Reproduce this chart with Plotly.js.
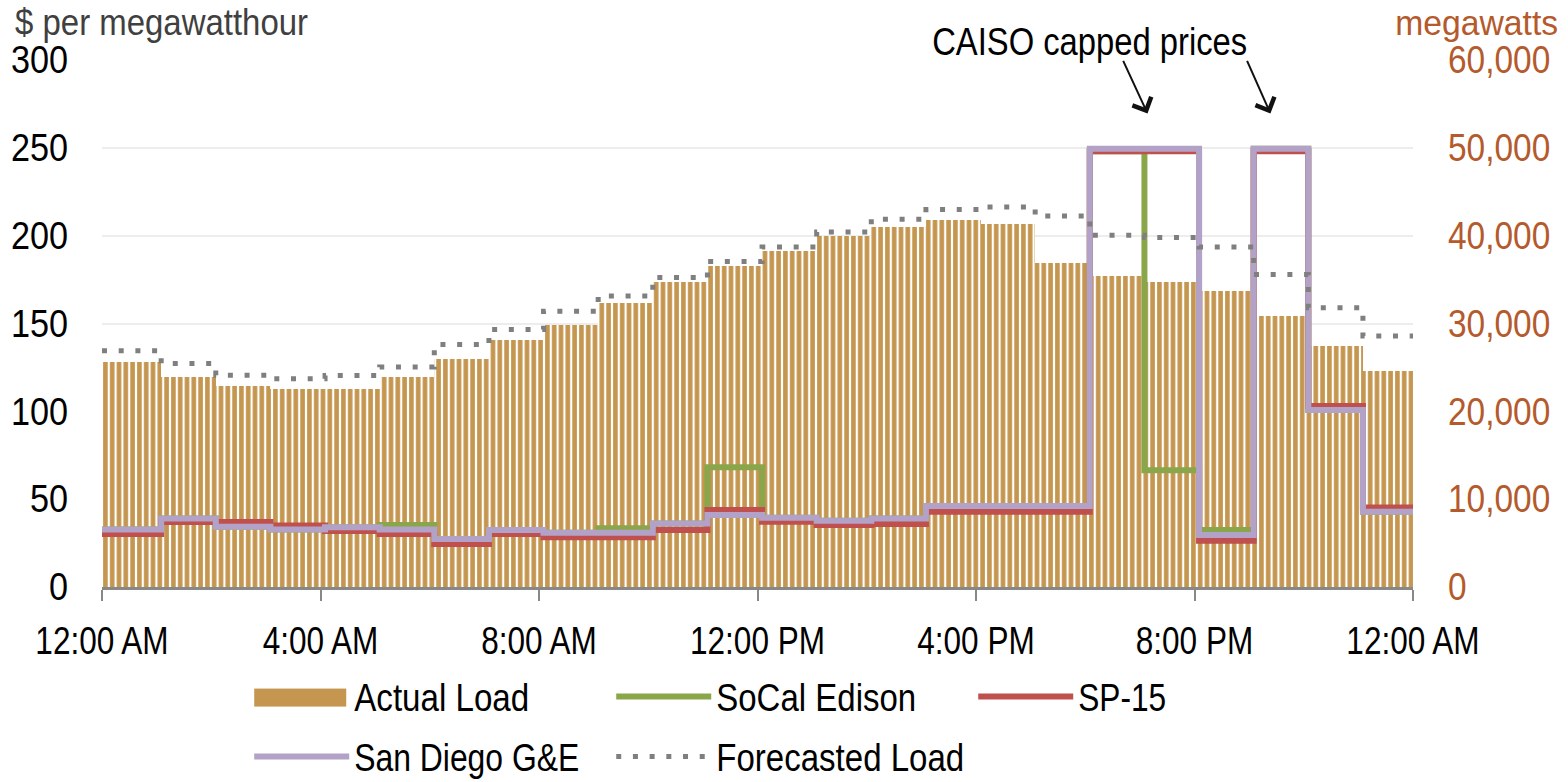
<!DOCTYPE html>
<html>
<head>
<meta charset="utf-8">
<script src="https://cdn.plot.ly/plotly-3.0.1.min.js"></script>
<style>
  html, body { margin: 0; padding: 0; background: #ffffff; }
  #chart { width: 1568px; height: 782px; }
</style>
</head>
<body>
<div id="chart"></div>
<script>
// ---- data (hourly, hour-ending values) ----
const hourLabels = ['12:00 AM', '4:00 AM', '8:00 AM', '12:00 PM', '4:00 PM', '8:00 PM', '12:00 AM'];
const tickHours = [0, 4, 8, 12, 16, 20, 24];

const actualLoad = [25630, 23900, 22900, 22530, 22530, 23900, 25940, 28100, 29800, 32300, 34700, 36520,
                    38230, 39930, 40950, 41750, 41330, 36900, 35400, 34700, 33700, 30800, 27400, 24600];
const forecastLoad = [26900, 25450, 24120, 23700, 24080, 25060, 27600, 29320, 31400, 33140, 35230, 37050,
                      38720, 40420, 41870, 42970, 43270, 42240, 40050, 39780, 38720, 35580, 31780, 28590];
const socalEdison = [32.8, 39, 34.3, 32.8, 34, 35.3, 27.3, 32.4, 30.9, 33.4, 36.2, 68.1,
                     39.4, 37.7, 39, 46.1, 46.1, 46.1, 248, 66.5, 32.4, 249.5, 100.7, 42.8];
const sp15 = [30.1, 37, 37, 35, 31.9, 30.1, 24.5, 30.1, 28.3, 28.3, 32.4, 43.8,
              37.1, 35.3, 35.8, 42.8, 42.8, 42.8, 248, 248, 26.3, 248, 103, 45.3];
const sanDiego = [32.8, 39, 34.3, 32.8, 34, 32.8, 27.3, 32.4, 30.9, 30.9, 36.2, 41,
                  39.4, 37.7, 39, 46.1, 46.1, 46.1, 249.5, 249.5, 29.6, 249.5, 100.7, 42.8];

// ---- helpers ----
const OFF = 1 / 12;           // hour-ending 5-minute convention shifts each block by one interval
const N = actualLoad.length;

function stepX() {
  const xs = [0];
  for (let h = 1; h < N; h++) xs.push(h + OFF);
  xs.push(N);
  return xs;
}
function stepY(vals) { return vals.concat([vals[vals.length - 1]]); }

const barLeft = actualLoad.map((v, h) => (h === 0 ? 0 : h + OFF));
const barRight = actualLoad.map((v, h) => h + 1 + OFF);
const barX = barLeft.map((l, i) => (l + barRight[i]) / 2);
const barW = barLeft.map((l, i) => barRight[i] - l);

const FONT = "'Liberation Sans', Arial, sans-serif";
const TAN = '#C4964F';
const GREEN = '#8AA64A';
const RED = '#C0504D';
const PURPLE = '#B3A2C7';
const GRAY = '#7F7F7F';
const BROWN = '#B45A2C';

const traces = [
  {
    type: 'bar', name: 'Actual Load', x: barX, y: actualLoad, width: barW,
    yaxis: 'y', legend: 'legend',
    marker: { color: TAN, line: { width: 0 },
      pattern: { shape: '|', size: 6.8, solidity: 0.68, fgcolor: TAN, bgcolor: '#ffffff', fgopacity: 1 } },
    hoverinfo: 'skip'
  },
  {
    type: 'scatter', mode: 'lines', name: 'SoCal Edison', x: stepX(), y: stepY(socalEdison),
    yaxis: 'y2', legend: 'legend', line: { shape: 'hv', color: GREEN, width: 6 }
  },
  {
    type: 'scatter', mode: 'lines', name: 'SP-15', x: stepX(), y: stepY(sp15),
    yaxis: 'y2', legend: 'legend', line: { shape: 'hv', color: RED, width: 6 }
  },
  {
    type: 'scatter', mode: 'lines', name: 'San Diego G&E', x: stepX(), y: stepY(sanDiego),
    yaxis: 'y2', legend: 'legend2', line: { shape: 'hv', color: PURPLE, width: 6 }
  },
  {
    type: 'scatter', mode: 'lines', name: 'Forecasted Load', x: stepX(), y: stepY(forecastLoad),
    yaxis: 'y3', legend: 'legend2', line: { shape: 'hv', color: GRAY, width: 5, dash: '5px,11.7px' }
  }
];

const legendCommon = {
  orientation: 'h', xanchor: 'left', yanchor: 'middle',
  font: { family: FONT, size: 38, color: '#000000' },
  bgcolor: 'rgba(0,0,0,0)', borderwidth: 0,
  itemwidth: 95, entrywidth: 252, entrywidthmode: 'pixels',
  traceorder: 'normal', itemclick: false, itemdoubleclick: false
};

const layout = {
  width: 1568, height: 782,
  paper_bgcolor: '#ffffff', plot_bgcolor: '#ffffff',
  margin: { l: 101.5, r: 154.5, t: 59.5, b: 195, pad: 0, autoexpand: false },
  font: { family: FONT, size: 38, color: '#000000' },
  showlegend: true,
  bargap: 0,
  xaxis: {
    range: [0, 24], tickvals: tickHours, ticktext: hourLabels,
    showgrid: false, zeroline: false,
    showline: true, linecolor: '#888888', linewidth: 3,
    ticks: 'outside', ticklen: 11, tickwidth: 2, tickcolor: '#888888',
    tickfont: { family: FONT, size: 38, color: '#000000' },
    ticklabelstandoff: 7, fixedrange: true, automargin: false
  },
  yaxis: {
    range: [0, 60000], side: 'right', tickvals: [0, 10000, 20000, 30000, 40000, 50000, 60000],
    tickformat: ',d', showgrid: true, gridcolor: '#EDEDED', gridwidth: 2,
    zeroline: false, showline: false, ticks: '',
    tickfont: { family: FONT, size: 38, color: BROWN },
    ticklabelstandoff: 34, fixedrange: true, automargin: false
  },
  yaxis2: {
    range: [0, 300], overlaying: 'y', side: 'left', tickvals: [0, 50, 100, 150, 200, 250, 300],
    showgrid: false, zeroline: false, showline: false, ticks: '',
    tickfont: { family: FONT, size: 38, color: '#000000' },
    ticklabelstandoff: 33, fixedrange: true, automargin: false
  },
  yaxis3: {
    range: [0, 60000], overlaying: 'y', side: 'right', visible: false, fixedrange: true
  },
  legend: Object.assign({}, legendCommon, { x: 0.1123, y: -0.2085 }),
  legend2: Object.assign({}, legendCommon, { x: 0.1123, y: -0.3223 }),
  annotations: [
    { xref: 'paper', yref: 'paper', x: 0.0457, y: 1.0711, xanchor: 'center', yanchor: 'middle',
      text: '$ per megawatthour', showarrow: false, font: { family: FONT, size: 37, color: '#404040' } },
    { xref: 'paper', yref: 'paper', x: 1.0488, y: 1.0711, xanchor: 'center', yanchor: 'middle',
      text: 'megawatts', showarrow: false, font: { family: FONT, size: 35, color: BROWN } },
    { xref: 'paper', yref: 'paper', x: 0.753, y: 1.035, xanchor: 'center', yanchor: 'middle',
      text: 'CAISO capped prices', showarrow: false, font: { family: FONT, size: 38, color: '#000000' } },
    { xref: 'x', yref: 'y2', x: 19.14, y: 269.6, ax: -25, ay: -54, showarrow: true,
      arrowhead: 4, arrowsize: 2, arrowwidth: 2, arrowcolor: '#111111', text: '' },
    { xref: 'x', yref: 'y2', x: 21.39, y: 269.6, ax: -24, ay: -54, showarrow: true,
      arrowhead: 4, arrowsize: 2, arrowwidth: 2, arrowcolor: '#111111', text: '' }
  ]
};

// The reference uses a narrow sans face; none is installed, so glyphs are compressed horizontally.
const targetWidths = {
  '$ per megawatthour': 293, 'megawatts': 163, 'CAISO capped prices': 315,
  'Actual Load': 175, 'SoCal Edison': 200, 'SP-15': 88, 'San Diego G&E': 225, 'Forecasted Load': 248
};
function squeeze(t, target) {
  const want = target.toFixed(2);
  if (t.getAttribute('textLength') === want) return;
  t.removeAttribute('textLength');
  const len = t.getComputedTextLength();
  if (!len) return;
  t.setAttribute('textLength', Math.min(target, len).toFixed(2) === want ? want : Math.min(target, len).toFixed(2));
  t.setAttribute('lengthAdjust', 'spacingAndGlyphs');
}
const factors = [['g.xtick text', 0.83], ['g.ytick text', 0.88], ['g.y2tick text', 0.9]];
let busy = false;
function narrowTexts() {
  if (busy) return;
  busy = true;
  const root = document.getElementById('chart');
  root.querySelectorAll('text').forEach(t => {
    const label = (t.textContent || '').trim();
    if (targetWidths[label]) squeeze(t, targetWidths[label]);
  });
  factors.forEach(([sel, k]) => {
    root.querySelectorAll(sel).forEach(t => {
      if (t.getAttribute('data-narrow')) return;
      const len = t.getComputedTextLength();
      if (!len) return;
      t.setAttribute('textLength', (len * k).toFixed(2));
      t.setAttribute('lengthAdjust', 'spacingAndGlyphs');
      t.setAttribute('data-narrow', '1');
    });
  });
  // legend entries are not clipped (texts were narrowed after layout)
  root.querySelectorAll('g[class^="legend"], g[class^="legend"] *').forEach(el => {
    if (el.hasAttribute('clip-path')) el.removeAttribute('clip-path');
  });
  // bar legend swatch drawn as a solid wide block like the reference
  root.querySelectorAll('text').forEach(txt => {
    if ((txt.textContent || '').trim() !== 'Actual Load') return;
    const g = txt.parentNode;
    if (!g || txt.closest('.infolayer') === null) return;
    g.querySelectorAll('g.legendpoints path').forEach(p => { p.style.display = 'none'; });
    if (g.querySelector('rect.load-swatch')) return;
    const tx = parseFloat(txt.getAttribute('x')) || 105;
    const r = document.createElementNS('http://www.w3.org/2000/svg', 'rect');
    r.setAttribute('class', 'load-swatch');
    r.setAttribute('x', (tx - 8 - 92).toFixed(1));
    r.setAttribute('y', '-8');
    r.setAttribute('width', '92');
    r.setAttribute('height', '18');
    r.setAttribute('fill', TAN);
    g.appendChild(r);
  });
  busy = false;
}

const gd = document.getElementById('chart');
Plotly.newPlot(gd, traces, layout, { staticPlot: true, displayModeBar: false }).then(() => {
  narrowTexts();
  gd.on('plotly_afterplot', narrowTexts);
  const obs = new MutationObserver(() => { if (!busy) requestAnimationFrame(narrowTexts); });
  obs.observe(gd, { childList: true, subtree: true, characterData: true });
  [0, 50, 150, 300, 600, 1000].forEach(ms => setTimeout(narrowTexts, ms));
});
</script>
</body>
</html>
